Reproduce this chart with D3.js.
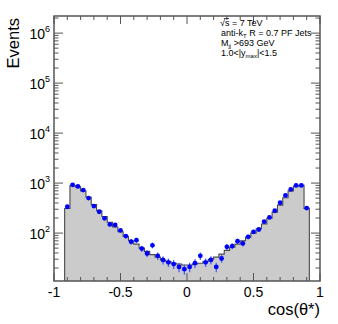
<!DOCTYPE html>
<html>
<head>
<meta charset="utf-8">
<script src="https://cdn.jsdelivr.net/npm/d3@7"></script>
<style>
  body { margin: 0; background: #fff; }
  text { font-family: "Liberation Sans", Arial, Helvetica, sans-serif; fill: #000; }
</style>
</head>
<body>
<div id="chart"></div>
<script>
// bin centres of cos(theta*), width 0.04
const binCenters = [-0.90, -0.86, -0.82, -0.78, -0.74, -0.70, -0.66, -0.62, -0.58, -0.54, -0.50, -0.46,
    -0.42, -0.38, -0.34, -0.30, -0.26, -0.22, -0.18, -0.14, -0.10, -0.06, -0.02,
    0.02, 0.06, 0.10, 0.14, 0.18, 0.22, 0.26, 0.30, 0.34, 0.38, 0.42, 0.46,
    0.50, 0.54, 0.58, 0.62, 0.66, 0.70, 0.74, 0.78, 0.82, 0.86, 0.90];
const binWidth = 0.04;

// measured events (blue points)
const dataCounts = [336, 925, 858, 724, 501, 347, 267, 197, 149, 145, 113, 87,
    67, 72, 49, 39, 57, 35, 29, 26, 24, 21, 19,
    21, 25, 35, 26, 29, 21, 31, 53, 55, 69, 62, 84,
    106, 118, 169, 206, 280, 404, 567, 747, 898, 898, 316];

// simulation histogram (grey)
const mcCounts = [310, 890, 840, 700, 520, 370, 280, 215, 165, 132, 106, 86,
    70, 60, 50, 43, 37, 33, 29, 27, 25, 24, 23,
    23, 24, 25, 27, 30, 33, 38, 45, 52, 60, 70, 83,
    100, 122, 152, 198, 262, 362, 510, 700, 860, 900, 312];

const xTicks = [-1, -0.5, 0, 0.5, 1];
const xTickLabels = ["-1", "-0.5", "0", "0.5", "1"];
const yDecades = [2, 3, 4, 5, 6];

const legendLines = ["sqrt", "antikt", "mjj", "ymax"];

const W = 338, H = 324;
const frame = {left: 54, right: 320, top: 16, bottom: 281};

const svg = d3.select("#chart").append("svg")
    .attr("width", W)
    .attr("height", H);

const x = d3.scaleLinear().domain([-1, 1]).range([frame.left, frame.right]);
const y = d3.scaleLog().domain([11, 2.2e6]).range([frame.bottom, frame.top]);

// histogram step path
let pathD = "M" + x(binCenters[0] - binWidth / 2) + "," + frame.bottom;
binCenters.forEach(function(c, i) {
    pathD += "L" + x(c - binWidth / 2) + "," + y(mcCounts[i]);
    pathD += "L" + x(c + binWidth / 2) + "," + y(mcCounts[i]);
});
pathD += "L" + x(binCenters[binCenters.length - 1] + binWidth / 2) + "," + frame.bottom;

svg.append("path")
    .attr("d", pathD + "Z")
    .attr("fill", "#cbcbcb")
    .attr("stroke", "none");
svg.append("path")
    .attr("d", pathD)
    .attr("fill", "none")
    .attr("stroke", "#4a4a4a")
    .attr("stroke-width", 1.1);

// data points with sqrt(N) error bars
const pts = binCenters.map((c, i) => ({x: c, v: dataCounts[i]}));

svg.selectAll(".err")
    .data(pts)
    .enter().append("line")
    .attr("class", "err")
    .attr("x1", d => x(d.x))
    .attr("x2", d => x(d.x))
    .attr("y1", d => y(d.v + Math.sqrt(d.v)))
    .attr("y2", d => y(Math.max(d.v - Math.sqrt(d.v), 11)))
    .attr("stroke", "#3b5cff")
    .attr("stroke-width", 1.2);

svg.selectAll(".pt")
    .data(pts)
    .enter().append("circle")
    .attr("class", "pt")
    .attr("cx", d => x(d.x))
    .attr("cy", d => y(d.v))
    .attr("r", 2.4)
    .attr("fill", "#0000ff");

// frame
svg.append("rect")
    .attr("x", frame.left)
    .attr("y", frame.top)
    .attr("width", frame.right - frame.left)
    .attr("height", frame.bottom - frame.top)
    .attr("fill", "none")
    .attr("stroke", "#555")
    .attr("stroke-width", 1.5);

// x ticks (bottom up, top down)
const xMinor = d3.range(-10, 11).map(k => k / 10);
const tickG = svg.append("g").attr("stroke", "#555").attr("stroke-width", 1);
xMinor.forEach(function(t) {
    const major = Math.abs(t * 2 - Math.round(t * 2)) < 1e-9;
    const len = major ? 8 : 4;
    tickG.append("line").attr("x1", x(t)).attr("x2", x(t))
        .attr("y1", frame.bottom).attr("y2", frame.bottom - len);
    tickG.append("line").attr("x1", x(t)).attr("x2", x(t))
        .attr("y1", frame.top).attr("y2", frame.top + len);
});

// y ticks (log, both sides)
const yTickVals = [];
for (let e = 1; e <= 6; e++) {
    for (let m = 1; m <= 9; m++) {
        const v = m * Math.pow(10, e);
        if (v >= 11 && v <= 2.2e6) yTickVals.push({v: v, major: m === 1});
    }
}
yTickVals.forEach(function(t) {
    const len = t.major ? 9 : 4.5;
    tickG.append("line").attr("x1", frame.left).attr("x2", frame.left + len)
        .attr("y1", y(t.v)).attr("y2", y(t.v));
    tickG.append("line").attr("x1", frame.right).attr("x2", frame.right - len)
        .attr("y1", y(t.v)).attr("y2", y(t.v));
});

// x tick labels
svg.selectAll(".xlab")
    .data(xTicks)
    .enter().append("text")
    .attr("class", "xlab")
    .attr("x", d => x(d))
    .attr("y", 297)
    .attr("text-anchor", "middle")
    .attr("font-size", 14)
    .text((d, i) => xTickLabels[i]);

// y tick labels 10^n
yDecades.forEach(function(e) {
    const yy = y(Math.pow(10, e));
    const t = svg.append("text")
        .attr("x", 50)
        .attr("y", yy + 5.5)
        .attr("text-anchor", "end")
        .attr("font-size", 14);
    t.append("tspan").text("10");
    t.append("tspan").attr("font-size", 9).attr("dy", -6.5).text(e);
});

// axis titles
svg.append("text")
    .attr("x", frame.right)
    .attr("y", 315)
    .attr("text-anchor", "end")
    .attr("font-size", 16.5)
    .text("cos(θ*)");

svg.append("text")
    .attr("transform", "translate(19,18) rotate(-90)")
    .attr("text-anchor", "end")
    .attr("font-size", 16.5)
    .text("Events");

// legend text
const lg = svg.append("g").attr("font-size", 9);
const l1 = lg.append("text").attr("x", 220).attr("y", 26);
l1.append("tspan").text("√s = 7 TeV");
lg.append("line").attr("x1", 224).attr("x2", 229).attr("y1", 18.5).attr("y2", 18.5)
    .attr("stroke", "#000").attr("stroke-width", 0.7);

const l2 = lg.append("text").attr("x", 221).attr("y", 35.5);
l2.append("tspan").text("anti-k");
l2.append("tspan").attr("font-size", 6).attr("dy", 2).text("T");
l2.append("tspan").attr("dy", -2).text(" R = 0.7 PF Jets");

const l3 = lg.append("text").attr("x", 221).attr("y", 45.5);
l3.append("tspan").text("M");
l3.append("tspan").attr("font-size", 6).attr("dy", 2).text("jj");
l3.append("tspan").attr("dy", -2).text(" >693 GeV");

const l4 = lg.append("text").attr("x", 221).attr("y", 55.5);
l4.append("tspan").text("1.0<|y");
l4.append("tspan").attr("font-size", 6).attr("dy", 2.5).text("max");
l4.append("tspan").attr("dy", -2.5).text("|<1.5");
</script>
</body>
</html>
